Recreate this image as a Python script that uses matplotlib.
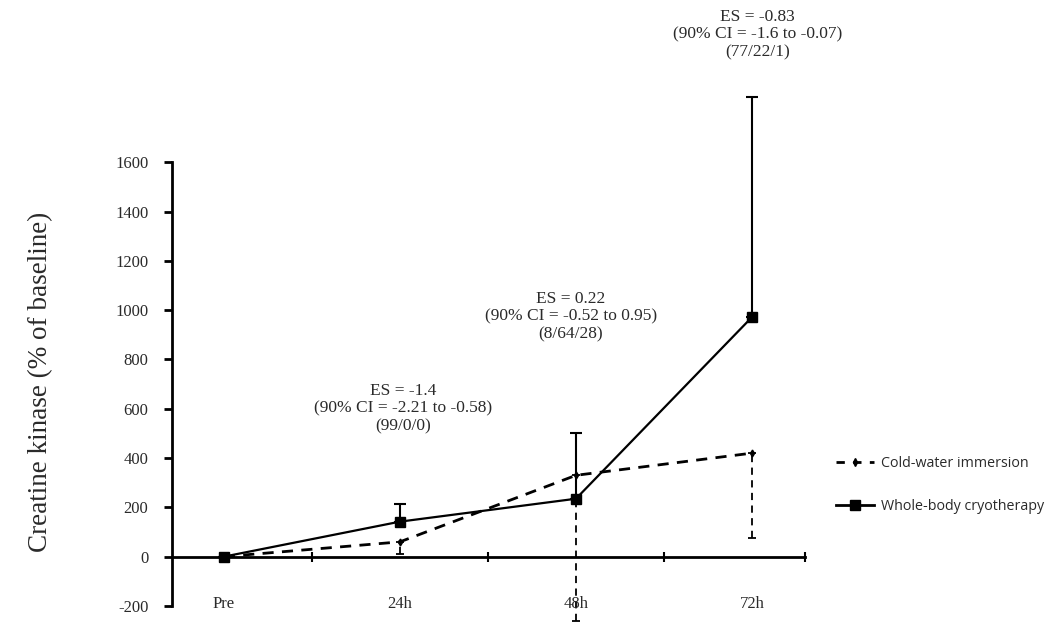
import matplotlib
matplotlib.use("Agg")
import matplotlib.pyplot as plt
from matplotlib.lines import Line2D
import numpy as np

categories = ["Pre", "24h", "48h", "72h"]
cwi_values = [0, 60, 330, 420]
cwi_lower_err = [0, 50, 590, 343]
wbc_values = [0, 142, 235, 972]
wbc_upper_err = [0, 73, 265, 894]
y_ticks = [-200, 0, 200, 400, 600, 800, 1000, 1200, 1400, 1600]
annotations = [
    "ES = -1.4\n(90% CI = -2.21 to -0.58)\n(99/0/0)",
    "ES = 0.22\n(90% CI = -0.52 to 0.95)\n(8/64/28)",
    "ES = -0.83\n(90% CI = -1.6 to -0.07)\n(77/22/1)",
]
legend_labels = ["Cold-water immersion", "Whole-body cryotherapy"]

serif = ["Liberation Serif", "DejaVu Serif"]
txt_col = "#2a2a2a"

fig = plt.figure(figsize=(10.48, 6.26), dpi=100)
ax = fig.add_axes([0.164, 0.032, 0.604, 0.827])

x = np.arange(len(categories))

# Cold-water immersion (dashed, lower error bars)
cwi = ax.errorbar(x, cwi_values, yerr=[cwi_lower_err, [0] * len(x)],
                  fmt="--", color="black", lw=2.0, marker="d", ms=3.5,
                  capsize=3, elinewidth=1.3, capthick=1.3, dashes=(4, 3),
                  clip_on=False, zorder=3)
for lc in cwi[2]:
    lc.set_linestyle((0, (4, 3)))
    lc.set_clip_on(False)
for cl in cwi[1]:
    cl.set_clip_on(False)

# Whole-body cryotherapy (solid, upper error bars)
wbc = ax.errorbar(x, wbc_values, yerr=[[0] * len(x), wbc_upper_err],
                  fmt="-", color="black", lw=1.6, marker="s", ms=7,
                  capsize=4, elinewidth=1.5, capthick=1.5,
                  clip_on=False, zorder=4)
for lc in wbc[2]:
    lc.set_clip_on(False)
for cl in wbc[1]:
    cl.set_clip_on(False)

ax.set_xlim(-0.295, 3.30)
ax.set_ylim(-200, 1900)

# spines
for s in ["top", "right"]:
    ax.spines[s].set_visible(False)
ax.spines["left"].set_linewidth(2)
ax.spines["left"].set_bounds(-200, 1600)
ax.spines["bottom"].set_position(("data", 0))
ax.spines["bottom"].set_linewidth(2)

ax.set_yticks(y_ticks)
ax.set_yticklabels([str(v) for v in y_ticks], family=serif, fontsize=12, color=txt_col)
ax.tick_params(axis="y", direction="out", length=6, width=2, pad=11)

ax.set_xticks([0.5, 1.5, 2.5, 3.3])
ax.set_xticklabels([])
ax.tick_params(axis="x", direction="inout", length=7, width=1.5)

for i, c in enumerate(categories):
    ax.text(i, -190, c, ha="center", va="center", family=serif, fontsize=12,
            color=txt_col)

ax.set_ylabel("Creatine kinase (% of baseline)", family=serif, fontsize=19.5,
              color=txt_col)
ax.yaxis.label.set_va("center")
ax.yaxis.set_label_coords(-0.208, 0.432)

ann_pos = [(1.02, 600), (1.97, 974), (3.03, 2118)]
for (ax_x, ax_y), t in zip(ann_pos, annotations):
    ax.text(ax_x, ax_y, t, ha="center", va="center", family=serif,
            fontsize=12.5, color=txt_col, linespacing=1.15, clip_on=False)

handles = [
    Line2D([], [], color="black", lw=2.0, ls=(0, (3, 3)), marker="d", ms=4),
    Line2D([], [], color="black", lw=2.0, ls="-", marker="s", ms=7),
]
fig.legend(handles=handles, labels=legend_labels,
           loc="center left", bbox_to_anchor=(0.785, 0.225), frameon=False,
           prop={"family": ["Open Sans", "DejaVu Sans"], "size": 10.3},
           labelcolor=txt_col,
           labelspacing=2.0, handlelength=2.7, handletextpad=0.45)

fig.savefig("out.png", dpi=100)
